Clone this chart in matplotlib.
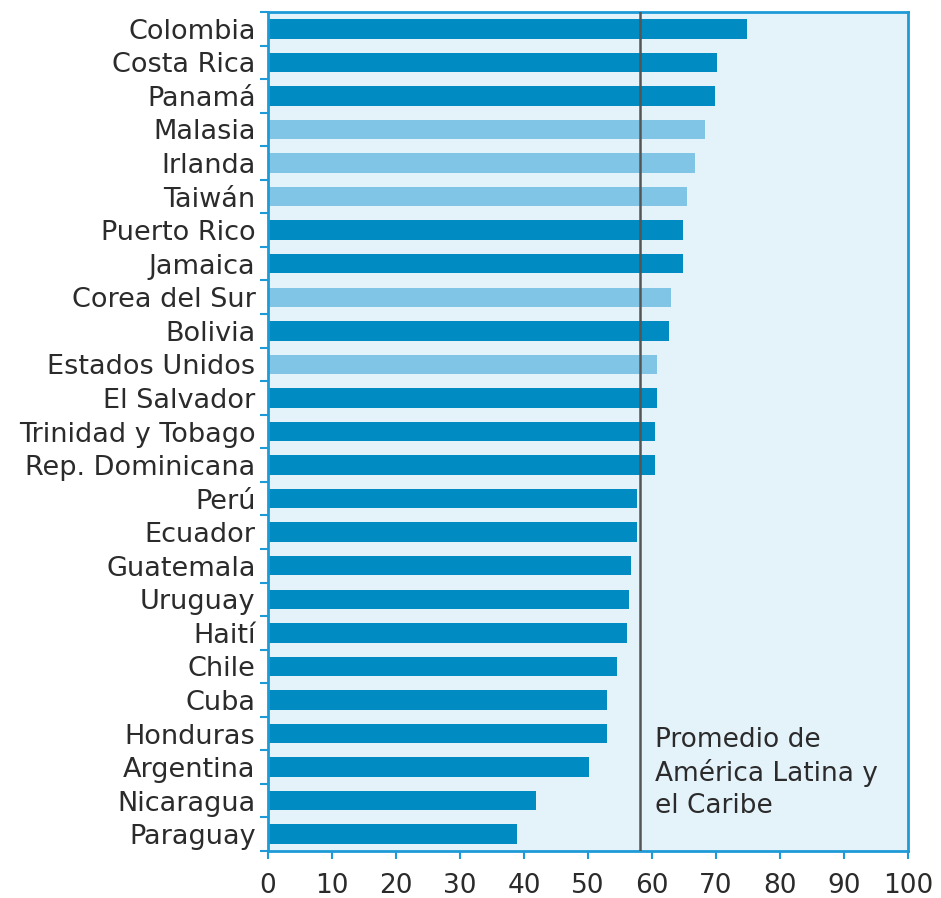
import matplotlib
matplotlib.use("Agg")
import matplotlib.pyplot as plt
import numpy as np

countries = ["Colombia", "Costa Rica", "Panamá", "Malasia", "Irlanda", "Taiwán",
             "Puerto Rico", "Jamaica", "Corea del Sur", "Bolivia", "Estados Unidos",
             "El Salvador", "Trinidad y Tobago", "Rep. Dominicana", "Perú", "Ecuador",
             "Guatemala", "Uruguay", "Haití", "Chile", "Cuba", "Honduras", "Argentina",
             "Nicaragua", "Paraguay"]
values = [74.9, 70.2, 69.9, 68.3, 66.7, 65.5, 64.8, 64.8, 63.0, 62.7, 60.8,
          60.8, 60.5, 60.5, 57.7, 57.7, 56.7, 56.4, 56.1, 54.5, 53.0, 53.0, 50.2,
          41.8, 38.9]
comparators = ["Malasia", "Irlanda", "Taiwán", "Corea del Sur", "Estados Unidos"]
average = 58.1
avg_label = "Promedio de\nAmérica Latina y\nel Caribe"
xticks = [0, 10, 20, 30, 40, 50, 60, 70, 80, 90, 100]

dark = "#008CC3"
light = "#80C5E5"
bg = "#E4F2FA"
spine = "#1E9BD7"
text_c = "#2B2B2B"

plt.rcParams['font.family'] = ['DejaVu Sans']

fig = plt.figure(figsize=(9.41, 8.98), dpi=100)
ax = fig.add_axes([268/941, 1-851/898, (908-268)/941, (851-12)/898])
ax.set_facecolor(bg)

y = np.arange(len(countries))
colors = [light if c in comparators else dark for c in countries]
ax.barh(y, values, height=0.58, color=colors, zorder=2)
ax.axvline(average, color="#555555", lw=1.8, zorder=3)
ax.text(average + 2.4, 20.8, avg_label, fontsize=19, color=text_c, va="top",
        ha="left", linespacing=1.28, zorder=4)

ax.set_xlim(0, 100)
ax.set_ylim(len(countries) - 0.5, -0.5)
ax.set_xticks(xticks)
ax.set_xticklabels([str(t) for t in xticks], fontsize=19, color=text_c)
ax.set_yticks(y)
ax.set_yticklabels(countries, fontsize=19.5, color=text_c)
ax.tick_params(axis="y", which="major", length=0, pad=9)
ax.set_yticks(np.arange(-0.5, len(countries) + 0.5, 1), minor=True)
ax.tick_params(axis="y", which="minor", length=5.5, width=1.5, color=spine, direction="out")
ax.tick_params(axis="x", which="major", length=5.5, width=1.5, color=spine, direction="out", pad=10)

for s in ax.spines.values():
    s.set_color(spine)
    s.set_linewidth(2)

fig.savefig("out.png", dpi=100, facecolor="white")
